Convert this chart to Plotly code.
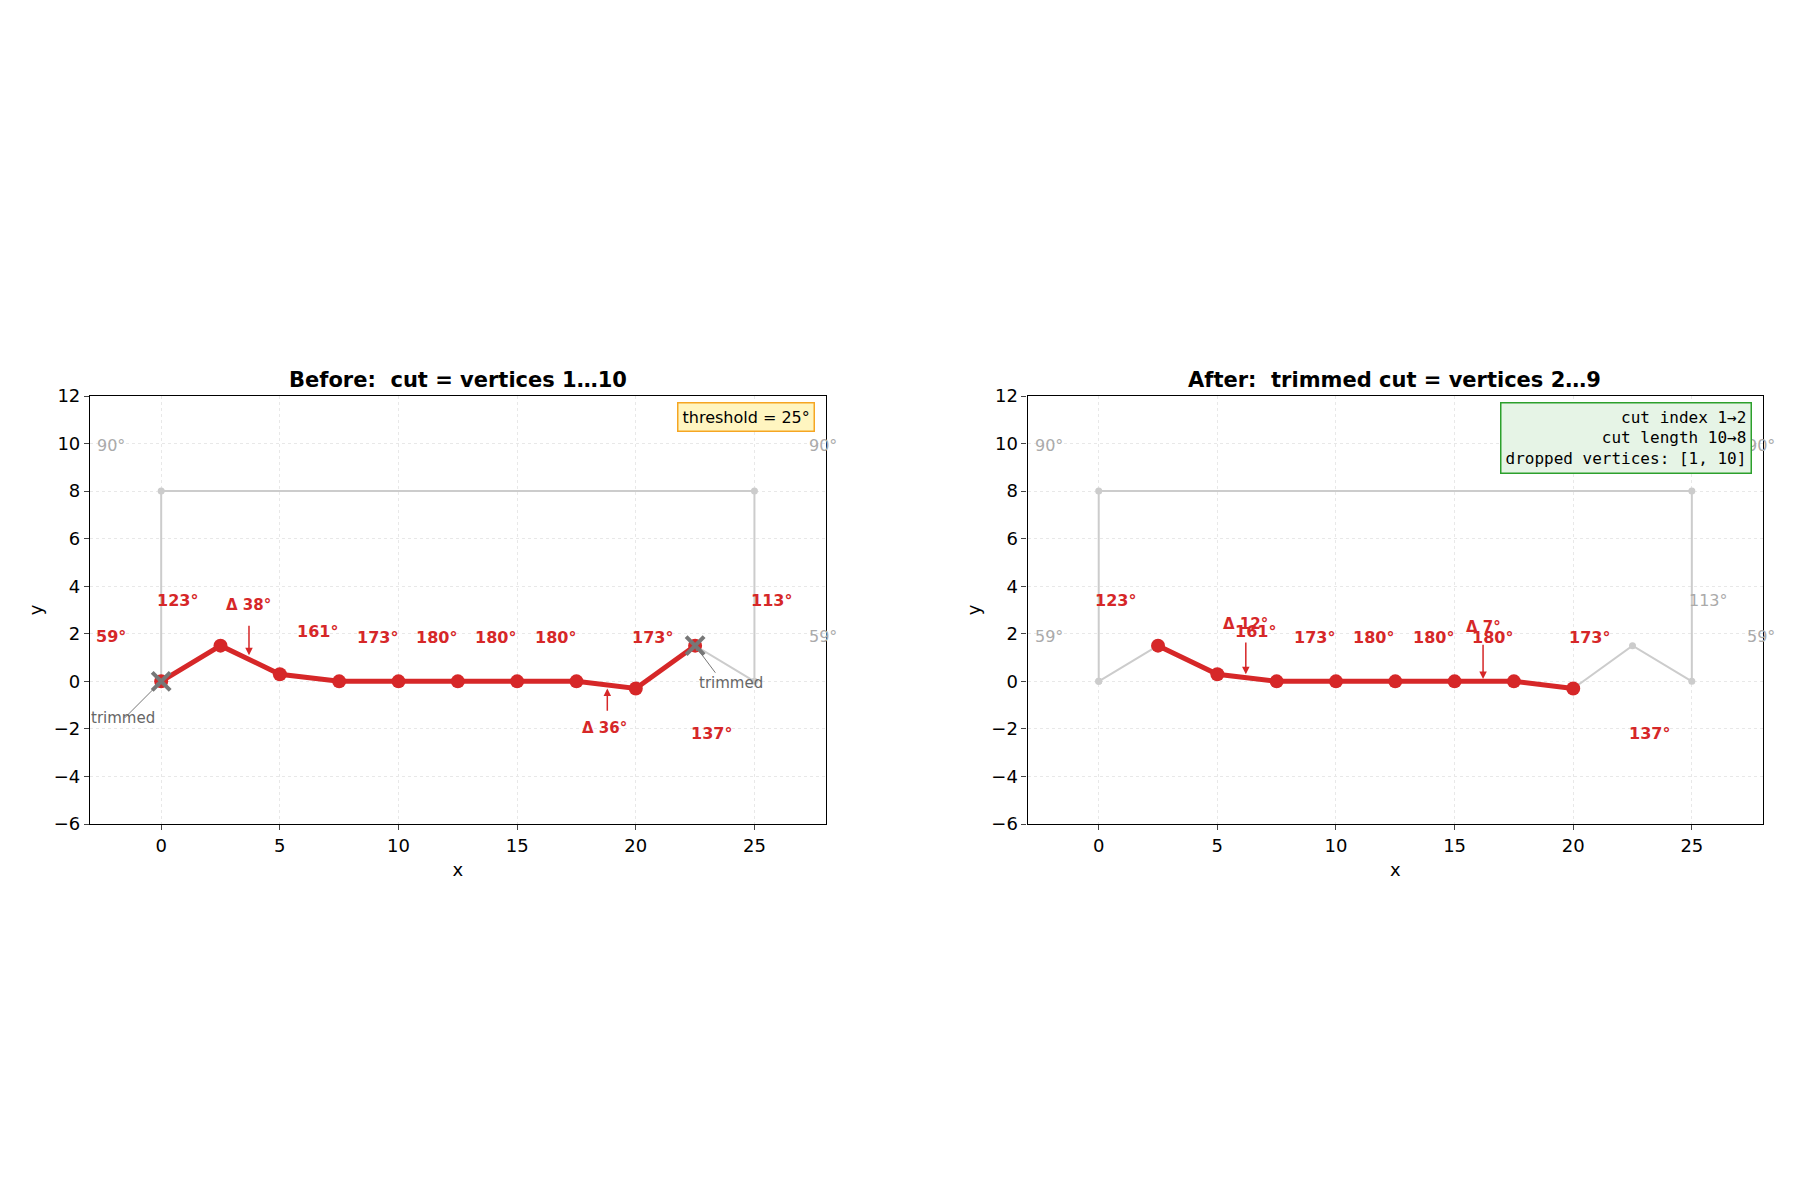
import plotly.graph_objects as go
from plotly.subplots import make_subplots

# polygon outline (closed)
poly_x = [0, 2.5, 5, 7.5, 10, 12.5, 15, 17.5, 20, 22.5, 25, 25, 0, 0]
poly_y = [0, 1.5, 0.3, 0, 0, 0, 0, 0, -0.3, 1.5, 0, 8, 8, 0]

# cuts
before_x = [0, 2.5, 5, 7.5, 10, 12.5, 15, 17.5, 20, 22.5]
before_y = [0, 1.5, 0.3, 0, 0, 0, 0, 0, -0.3, 1.5]
after_x = [2.5, 5, 7.5, 10, 12.5, 15, 17.5, 20]
after_y = [1.5, 0.3, 0, 0, 0, 0, 0, -0.3]
trim_x = [0, 22.5]
trim_y = [0, 1.5]

# angle labels: (x, y, text, red?)
before_labels = [
    (-2.1, 9.9, "90°", False), (-2.1, 1.9, "59°", True), (0.7, 3.4, "123°", True),
    (6.6, 2.1, "161°", True), (9.1, 1.85, "173°", True), (11.6, 1.85, "180°", True),
    (14.1, 1.85, "180°", True), (16.6, 1.85, "180°", True), (20.7, 1.85, "173°", True),
    (23.2, -2.2, "137°", True), (25.7, 3.4, "113°", True),
    (27.9, 9.9, "90°", False), (27.9, 1.9, "59°", False),
]
after_labels = [
    (-2.1, 9.9, "90°", False), (-2.1, 1.9, "59°", False), (0.7, 3.4, "123°", True),
    (6.6, 2.1, "161°", True), (9.1, 1.85, "173°", True), (11.6, 1.85, "180°", True),
    (14.1, 1.85, "180°", True), (16.6, 1.85, "180°", True), (20.7, 1.85, "173°", True),
    (23.2, -2.2, "137°", True), (25.7, 3.4, "113°", False),
    (27.9, 9.9, "90°", False), (27.9, 1.9, "59°", False),
]

RED = "#d62728"
GREY = "#aaaaaa"

fig = make_subplots(rows=1, cols=2, horizontal_spacing=0.12,
                    subplot_titles=("<b>Before:  cut = vertices 1…10</b>",
                                    "<b>After:  trimmed cut = vertices 2…9</b>"))

for col, cx, cy, labels in [(1, before_x, before_y, before_labels), (2, after_x, after_y, after_labels)]:
    fig.add_trace(go.Scatter(x=poly_x, y=poly_y, mode="lines+markers",
                             line=dict(color="#cccccc", width=2),
                             marker=dict(color="#cccccc", size=7)), row=1, col=col)
    fig.add_trace(go.Scatter(x=cx, y=cy, mode="lines+markers",
                             line=dict(color=RED, width=5),
                             marker=dict(color=RED, size=14)), row=1, col=col)
    for lx, ly, t, red in labels:
        fig.add_annotation(x=lx, y=ly, text=("<b>%s</b>" % t) if red else t, showarrow=False,
                           font=dict(size=16, color=RED if red else GREY),
                           row=1, col=col)

fig.add_trace(go.Scatter(x=trim_x, y=trim_y, mode="markers",
                         marker=dict(symbol="x-thin", size=18, line=dict(color="#777777", width=4))),
              row=1, col=1)

# arrows
fig.add_annotation(x=3.7, y=1.1, ax=3.7, ay=2.4, axref="x", ayref="y", xref="x", yref="y",
                   text="", showarrow=True, arrowhead=2, arrowcolor=RED, arrowwidth=1.5)
fig.add_annotation(x=3.7, y=3.2, xref="x", yref="y", text="<b>Δ 38°</b>", showarrow=False,
                   font=dict(size=15, color=RED))
fig.add_annotation(x=18.8, y=-0.3, ax=18.8, ay=-1.3, axref="x", ayref="y", xref="x", yref="y",
                   text="", showarrow=True, arrowhead=2, arrowcolor=RED, arrowwidth=1.5)
fig.add_annotation(x=18.7, y=-1.95, xref="x", yref="y", text="<b>Δ 36°</b>", showarrow=False,
                   font=dict(size=15, color=RED))
fig.add_annotation(x=0, y=0, ax=-1.6, ay=-1.6, axref="x", ayref="y", xref="x", yref="y",
                   text="", showarrow=True, arrowhead=2, arrowcolor="#777777", arrowwidth=1)
fig.add_annotation(x=-1.6, y=-1.55, xref="x", yref="y", text="trimmed", showarrow=False,
                   font=dict(size=15, color="#666666"))
fig.add_annotation(x=22.5, y=1.5, ax=23.4, ay=0.3, axref="x", ayref="y", xref="x", yref="y",
                   text="", showarrow=True, arrowhead=2, arrowcolor="#777777", arrowwidth=1)
fig.add_annotation(x=24.0, y=-0.05, xref="x", yref="y", text="trimmed", showarrow=False,
                   font=dict(size=15, color="#666666"))

fig.add_annotation(x=6.2, y=0.3, ax=6.2, ay=1.7, axref="x2", ayref="y2", xref="x2", yref="y2",
                   text="", showarrow=True, arrowhead=2, arrowcolor=RED, arrowwidth=1.5)
fig.add_annotation(x=6.2, y=2.4, xref="x2", yref="y2", text="<b>Δ 12°</b>", showarrow=False,
                   font=dict(size=15, color=RED))
fig.add_annotation(x=16.2, y=0.1, ax=16.2, ay=1.6, axref="x2", ayref="y2", xref="x2", yref="y2",
                   text="", showarrow=True, arrowhead=2, arrowcolor=RED, arrowwidth=1.5)
fig.add_annotation(x=16.2, y=2.3, xref="x2", yref="y2", text="<b>Δ 7°</b>", showarrow=False,
                   font=dict(size=15, color=RED))

# info boxes
fig.add_annotation(x=0.985, y=0.985, xref="x domain", yref="y domain", xanchor="right", yanchor="top",
                   text="threshold = 25°", showarrow=False, font=dict(size=16, color="black"),
                   bgcolor="#fff5c0", bordercolor="#f5a623", borderwidth=1.5, borderpad=4)
fig.add_annotation(x=0.985, y=0.985, xref="x2 domain", yref="y2 domain", xanchor="right", yanchor="top",
                   text="cut index 1→2<br>cut length 10→8<br>dropped vertices: [1, 10]",
                   align="right", showarrow=False,
                   font=dict(size=16, color="black", family="DejaVu Sans Mono"),
                   bgcolor="#e6f4e6", bordercolor="#2ca02c", borderwidth=1.5, borderpad=4)

for annot in fig.layout.annotations:
    if annot.text.startswith("<b>Before") or annot.text.startswith("<b>After"):
        annot.font = dict(size=21, color="black")
        annot.yshift = 2

axis_style = dict(showline=True, linecolor="black", linewidth=1.2, mirror=True, ticks="outside",
                  showgrid=True, gridcolor="#e8e8e8", griddash="dot", zeroline=False,
                  tickfont=dict(size=18, color="black"))
fig.update_xaxes(range=[-3, 28], tickvals=[0, 5, 10, 15, 20, 25],
                 title=dict(text="x", font=dict(size=18), standoff=8), **axis_style)
fig.update_yaxes(range=[-6, 12], tickvals=[-6, -4, -2, 0, 2, 4, 6, 8, 10, 12],
                 title=dict(text="y", font=dict(size=18), standoff=6), **axis_style)

fig.update_layout(width=1800, height=1200, showlegend=False, plot_bgcolor="white",
                  paper_bgcolor="white", font=dict(family="DejaVu Sans", color="black"),
                  margin=dict(l=82, r=45, t=388, b=384))
fig.update_layout(xaxis=dict(domain=[0, 0.4397]), xaxis2=dict(domain=[0.5604, 1]))

fig.write_html("out.html")
